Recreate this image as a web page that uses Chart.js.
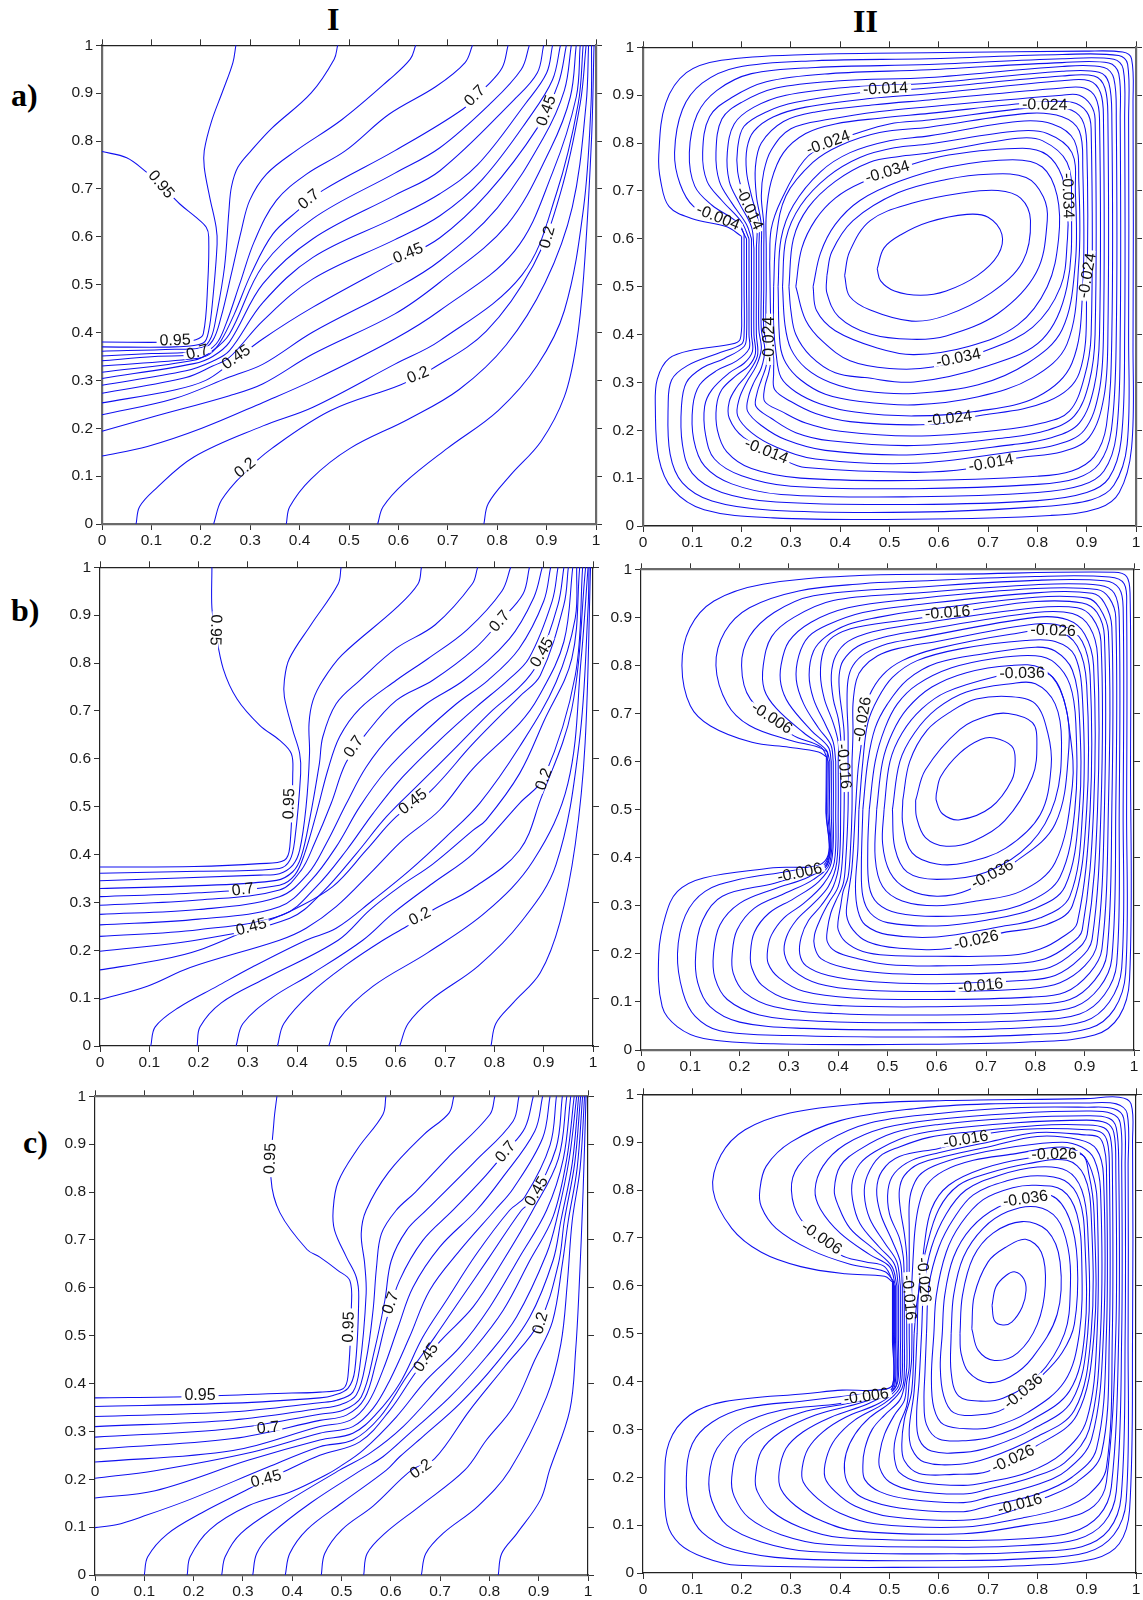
<!DOCTYPE html>
<html><head><meta charset="utf-8">
<script src="https://cdn.jsdelivr.net/npm/chart.js@4"></script>
<style>
html,body{margin:0;padding:0;background:#fff;width:1143px;height:1600px;overflow:hidden}
canvas{position:absolute;display:block}
.h{position:absolute;font:bold 32px "Liberation Serif",serif;color:#000;line-height:1;white-space:pre}
</style></head><body>
<div class="h" style="left:327px;top:3px">I</div>
<div class="h" style="left:853px;top:5px">II</div>
<div class="h" style="left:11px;top:79px">a)</div>
<div class="h" style="left:11px;top:594px">b)</div>
<div class="h" style="left:23px;top:1126px">c)</div>
<script>
const axisTicks=[0,.1,.2,.3,.4,.5,.6,.7,.8,.9,1];

// ---------- a) I ----------
const curvesA1=[
[0,.778,.05,.765,.09,.735,.119,.709,.157,.669,.19,.641,.211,.62,.216,.6,.214,.502,.205,.397,.19,.385,.15,.38,0,.38],
[.271,1,.265,.964,.245,.906,.222,.842,.207,.78,.207,.745,.218,.683,.231,.62,.233,.585,.224,.467,.216,.404,.205,.378,.147,.37,0,.37],
[.477,1,.47,.971,.423,.9,.344,.827,.302,.78,.275,.745,.262,.704,.257,.655,.248,.537,.231,.432,.221,.39,.204,.369,.147,.365,0,.361],
[.635,1,.624,.971,.581,.928,.486,.845,.393,.78,.333,.731,.299,.676,.282,.613,.262,.523,.241,.432,.224,.383,.197,.362,.1,.356,0,.351],
[.75,1,.735,.964,.676,.914,.581,.856,.493,.78,.414,.731,.353,.676,.309,.592,.279,.502,.251,.418,.231,.376,.197,.355,.107,.35,0,.341],
[.822,1,.81,.953,.778,.914,.731,.867,.593,.78,.447,.697,.397,.655,.346,.606,.302,.523,.268,.439,.241,.383,.218,.355,.186,.345,0,.33],
[.865,1,.849,.95,.786,.878,.684,.786,.593,.733,.427,.638,.326,.54,.258,.397,.224,.362,.186,.342,0,.317],
[.894,1,.881,.942,.833,.885,.684,.738,.593,.687,.427,.596,.326,.502,.258,.38,.224,.35,.186,.335,0,.304],
[.912,1,.9,.942,.857,.878,.76,.75,.684,.69,.593,.64,.427,.557,.326,.463,.258,.362,.224,.34,.17,.32,0,.29],
[.928,1,.912,.928,.865,.849,.77,.72,.684,.644,.593,.594,.427,.512,.326,.425,.258,.348,.224,.33,.17,.306,0,.273],
[.94,1,.924,.921,.881,.827,.78,.69,.684,.598,.593,.547,.427,.453,.326,.387,.258,.334,.21,.3,.147,.28,0,.253],
[.95,1,.936,.906,.893,.806,.8,.66,.684,.55,.593,.491,.427,.401,.326,.334,.258,.307,.147,.262,0,.228],
[.96,1,.948,.892,.908,.784,.82,.625,.684,.505,.593,.439,.427,.355,.326,.293,.258,.268,.107,.225,0,.194],
[.968,1,.96,.892,.912,.734,.835,.57,.684,.446,.593,.387,.427,.3,.326,.254,.202,.2,.092,.162,0,.142],
[.974,1,.964,.878,.92,.691,.85,.52,.684,.383,.593,.334,.427,.244,.326,.205,.186,.14,.107,.072,.076,.036,.069,0],
[.98,1,.968,.878,.928,.691,.873,.54,.778,.403,.668,.324,.605,.291,.463,.237,.344,.158,.289,.108,.242,.05,.226,0],
[.985,1,.98,.878,.952,.662,.897,.504,.818,.374,.723,.281,.62,.219,.502,.158,.423,.094,.38,.036,.373,0],
[.991,1,.99,.878,.975,.662,.936,.446,.881,.331,.802,.237,.699,.158,.612,.086,.569,.036,.558,0],
[.996,1,.991,.806,.975,.518,.96,.374,.936,.266,.889,.173,.826,.101,.782,.043,.773,0]];
const labelsA1=[["0.95",.119,.709],["0.95",.148,.383],["0.7",.193,.358],["0.45",.272,.348],["0.7",.419,.678],["0.7",.755,.894],["0.45",.62,.565],["0.45",.9,.863],["0.2",.64,.311],["0.2",.29,.117],["0.2",.902,.599]];
const anglesA1=[50,-2,-15,-35,-40,-45,-22,-70,-22,-40,-75];

// ---------- a) II ----------
const curvesA2=[
[.2,.605,.17,.625,.1,.642,.053,.667,.036,.72,.032,.775,.046,.883,.088,.947,.159,.973,.334,.985,.615,.989,.896,.992,.973,.99,.991,.976,.994,.883,.994,.379,.991,.163,.966,.07,.924,.037,.826,.022,.545,.014,.264,.017,.124,.034,.06,.077,.032,.142,.025,.25,.029,.307,.053,.35,.103,.368,.18,.38,.197,.39,.2,.45,.2,.523,.2,.605],
[.205,.61,.194,.631,.152,.644,.103,.667,.075,.715,.064,.78,.08,.87,.12,.925,.19,.958,.35,.972,.58,.976,.85,.985,.965,.983,.983,.965,.985,.85,.985,.4,.982,.17,.955,.085,.91,.055,.8,.04,.55,.029,.26,.033,.14,.052,.08,.09,.055,.15,.051,.25,.058,.305,.09,.335,.15,.36,.2,.38,.205,.4,.205,.5,.205,.61],
[.21,.6,.19,.635,.14,.67,.105,.71,.094,.78,.11,.86,.15,.91,.22,.945,.35,.958,.58,.964,.85,.976,.955,.975,.974,.955,.977,.85,.977,.4,.97,.18,.945,.1,.9,.07,.8,.053,.55,.045,.27,.05,.16,.07,.1,.11,.08,.17,.078,.25,.088,.3,.12,.33,.165,.35,.205,.375,.21,.4,.21,.5,.21,.6],
[.215,.6,.2,.635,.16,.68,.13,.72,.121,.78,.135,.855,.18,.895,.25,.928,.38,.945,.58,.953,.85,.968,.945,.967,.965,.945,.968,.85,.968,.4,.96,.19,.935,.115,.89,.085,.8,.07,.55,.061,.28,.066,.18,.088,.125,.125,.103,.18,.101,.25,.115,.295,.15,.325,.19,.345,.215,.37,.215,.4,.215,.5,.215,.6],
[.22,.6,.21,.63,.18,.675,.155,.72,.148,.78,.16,.85,.2,.885,.27,.915,.4,.93,.58,.937,.85,.96,.935,.958,.955,.935,.96,.85,.96,.4,.95,.2,.925,.13,.88,.1,.8,.087,.55,.078,.3,.083,.2,.105,.145,.14,.127,.19,.125,.25,.14,.285,.175,.32,.205,.34,.222,.365,.22,.4,.22,.5,.22,.6],
[.225,.58,.22,.625,.195,.675,.175,.72,.171,.78,.185,.84,.225,.875,.29,.9,.42,.917,.58,.925,.85,.95,.925,.948,.945,.925,.951,.85,.951,.4,.94,.21,.915,.145,.87,.115,.8,.104,.55,.095,.32,.1,.22,.12,.17,.155,.151,.2,.149,.25,.16,.285,.19,.315,.215,.335,.228,.36,.225,.4,.225,.5,.225,.58],
[.23,.58,.23,.63,.205,.69,.192,.74,.192,.79,.205,.835,.25,.865,.31,.885,.44,.905,.58,.915,.85,.94,.915,.94,.937,.915,.943,.85,.943,.4,.935,.27,.905,.185,.85,.155,.759,.142,.664,.12,.55,.112,.33,.122,.292,.135,.204,.185,.175,.225,.175,.26,.19,.29,.21,.315,.232,.355,.23,.4,.23,.5,.23,.58],
[.235,.58,.235,.63,.22,.69,.21,.74,.211,.79,.225,.825,.265,.855,.33,.875,.46,.893,.58,.903,.85,.93,.905,.93,.928,.905,.934,.85,.934,.4,.925,.28,.895,.2,.84,.17,.75,.155,.55,.131,.35,.14,.27,.165,.22,.195,.192,.23,.195,.265,.21,.3,.23,.335,.24,.37,.235,.41,.235,.5,.235,.58],
[.24,.58,.24,.63,.23,.69,.228,.75,.24,.8,.285,.845,.35,.865,.47,.88,.58,.89,.85,.915,.895,.915,.918,.895,.926,.85,.926,.4,.915,.29,.885,.215,.83,.185,.75,.17,.55,.149,.37,.158,.29,.18,.24,.21,.212,.24,.214,.27,.225,.3,.24,.33,.247,.37,.24,.41,.24,.5,.24,.58],
[.245,.58,.245,.63,.24,.69,.245,.74,.26,.785,.3,.83,.38,.85,.48,.866,.58,.876,.85,.9,.885,.9,.908,.88,.917,.85,.917,.4,.905,.3,.875,.23,.82,.2,.74,.185,.55,.168,.38,.178,.31,.195,.26,.225,.229,.25,.232,.28,.24,.305,.25,.335,.253,.37,.245,.41,.245,.5,.245,.58],
[.25,.58,.25,.65,.26,.72,.285,.78,.33,.82,.39,.84,.48,.852,.58,.862,.8,.885,.87,.885,.9,.865,.909,.83,.909,.4,.895,.31,.865,.24,.81,.215,.72,.2,.55,.188,.4,.198,.33,.215,.28,.24,.247,.26,.247,.29,.255,.32,.26,.35,.258,.38,.25,.42,.25,.5,.25,.58],
[.257,.55,.26,.62,.28,.68,.327,.764,.376,.8,.426,.818,.5,.84,.58,.848,.8,.875,.86,.872,.89,.85,.9,.8,.9,.5,.885,.32,.82,.26,.668,.228,.58,.212,.42,.218,.35,.235,.3,.26,.267,.285,.265,.32,.265,.35,.26,.4,.257,.55],
[.265,.5,.27,.6,.29,.69,.345,.76,.4,.795,.48,.822,.58,.833,.78,.862,.85,.855,.885,.825,.892,.75,.892,.5,.87,.34,.8,.27,.68,.24,.55,.23,.43,.238,.36,.255,.31,.28,.28,.31,.27,.36,.265,.42,.265,.5],
[.274,.5,.28,.6,.305,.67,.36,.74,.42,.78,.5,.805,.58,.815,.76,.845,.83,.84,.875,.805,.884,.72,.884,.55,.86,.38,.79,.31,.68,.27,.55,.253,.44,.26,.37,.275,.32,.305,.29,.34,.278,.38,.274,.5],
[.283,.5,.29,.6,.32,.67,.375,.73,.44,.77,.51,.79,.58,.798,.76,.825,.82,.82,.87,.78,.877,.7,.877,.55,.85,.41,.78,.34,.68,.295,.55,.277,.45,.282,.38,.3,.33,.33,.3,.37,.288,.42,.283,.5],
[.296,.5,.305,.6,.335,.665,.39,.72,.46,.76,.52,.772,.58,.779,.76,.81,.81,.805,.86,.76,.869,.68,.86,.5,.81,.39,.7,.335,.55,.301,.45,.31,.39,.32,.34,.355,.31,.4,.3,.45,.296,.5],
[.31,.5,.322,.58,.35,.64,.39,.685,.443,.717,.538,.753,.62,.775,.77,.789,.82,.775,.85,.73,.861,.66,.861,.6,.847,.5,.79,.415,.692,.365,.587,.332,.5,.329,.42,.345,.365,.385,.33,.43,.31,.5],
[.345,.5,.36,.57,.39,.63,.44,.68,.52,.72,.62,.75,.75,.765,.81,.75,.84,.69,.843,.6,.82,.5,.76,.42,.66,.375,.55,.358,.475,.372,.39,.408,.352,.45,.345,.5],
[.373,.523,.383,.573,.426,.638,.517,.696,.615,.724,.7,.735,.777,.728,.812,.688,.82,.638,.798,.53,.72,.444,.615,.397,.545,.39,.461,.401,.397,.437,.373,.487,.373,.523],
[.409,.523,.419,.573,.461,.638,.545,.674,.65,.696,.72,.701,.766,.685,.786,.638,.77,.552,.706,.487,.615,.44,.545,.428,.461,.451,.419,.48,.409,.523],
[.475,.537,.489,.581,.524,.609,.58,.635,.657,.651,.7,.645,.728,.609,.72,.566,.678,.523,.615,.491,.563,.482,.51,.491,.482,.512,.475,.537]];
const labelsA2=[["-0.014",.492,.913],["-0.024",.815,.879],["-0.024",.376,.8],["-0.034",.496,.739],["-0.034",.861,.69],["-0.004",.152,.644],["-0.014",.215,.663],["-0.024",.257,.39],["-0.024",.902,.523],["-0.034",.64,.35],["-0.024",.622,.224],["-0.014",.25,.156],["-0.014",.706,.131]];
const anglesA2=[-3,1,-20,-17,88,22,65,-90,-80,-12,-7,22,-10];

// ---------- b) I ----------
const curvesB1=[
[.227,1,.227,.915,.234,.869,.25,.788,.278,.725,.324,.67,.364,.639,.388,.611,.391,.569,.385,.416,.374,.388,.324,.381,.191,.375,0,.374],
[.489,1,.483,.965,.428,.88,.384,.809,.374,.764,.374,.729,.391,.66,.405,.611,.407,.569,.395,.43,.385,.388,.364,.371,.2,.365,0,.361],
[.652,1,.645,.965,.601,.915,.491,.817,.452,.764,.432,.722,.424,.674,.425,.611,.418,.5,.405,.409,.391,.378,.364,.36,.324,.357,0,.345],
[.766,1,.755,.965,.68,.88,.601,.831,.527,.764,.479,.715,.452,.646,.445,.59,.425,.472,.408,.395,.391,.364,.358,.346,.2,.335,0,.329],
[.833,1,.815,.95,.745,.87,.665,.809,.601,.764,.527,.705,.486,.646,.462,.576,.439,.486,.415,.402,.395,.357,.364,.336,.2,.32,0,.312],
[.871,1,.858,.944,.811,.887,.76,.83,.675,.764,.601,.722,.537,.649,.498,.59,.469,.507,.435,.423,.408,.367,.364,.326,.2,.305,0,.294],
[.897,1,.88,.937,.83,.85,.738,.764,.662,.715,.594,.653,.54,.583,.5,.507,.459,.423,.422,.36,.364,.312,.2,.285,0,.275],
[.914,1,.9,.929,.85,.83,.787,.764,.723,.715,.648,.646,.581,.576,.527,.5,.479,.416,.429,.347,.364,.291,.2,.265,0,.253],
[.929,1,.917,.929,.87,.81,.827,.764,.763,.708,.689,.639,.614,.562,.554,.486,.5,.409,.439,.333,.371,.274,.2,.243,0,.229],
[.941,1,.929,.922,.885,.795,.851,.75,.797,.702,.723,.625,.648,.548,.581,.479,.52,.402,.452,.322,.385,.267,.2,.222,0,.198],
[.95,1,.941,.922,.893,.774,.851,.73,.757,.632,.669,.531,.601,.479,.54,.409,.472,.333,.391,.284,.344,.263,.2,.2,.112,.178,0,.159],
[.959,1,.941,.845,.89,.73,.851,.674,.757,.58,.689,.493,.614,.43,.554,.367,.479,.291,.418,.246,.364,.221,.183,.164,.096,.125,0,.097],
[.967,1,.964,.894,.925,.76,.851,.625,.77,.507,.702,.437,.628,.367,.554,.305,.479,.246,.418,.221,.309,.165,.238,.125,.159,.08,.112,.04,.103,0],
[.973,1,.957,.809,.901,.68,.851,.569,.783,.472,.757,.451,.675,.38,.608,.333,.547,.284,.483,.221,.333,.14,.246,.09,.203,.04,.197,0],
[.979,1,.964,.774,.901,.562,.851,.507,.757,.402,.675,.34,.594,.277,.533,.221,.428,.15,.349,.101,.29,.047,.276,0],
[.985,1,.957,.704,.893,.513,.851,.409,.757,.33,.675,.284,.621,.249,.574,.221,.5,.17,.428,.111,.373,.047,.36,0],
[.99,1,.976,.809,.949,.548,.878,.386,.783,.28,.665,.195,.554,.125,.483,.054,.464,0],
[.992,1,.99,.915,.972,.633,.925,.379,.854,.259,.767,.167,.672,.097,.625,.047,.608,0],
[.995,1,.984,.633,.964,.421,.933,.259,.893,.153,.838,.09,.803,.047,.793,0]];
const labelsB1=[["0.95",.234,.869],["0.95",.384,.506],["0.7",.29,.326],["0.45",.307,.248],["0.7",.515,.625],["0.7",.811,.887],["0.45",.897,.822],["0.45",.635,.51],["0.2",.649,.27],["0.2",.901,.557]];
const anglesB1=[92,-88,-8,-15,-55,-50,-60,-38,-28,-70];

// ---------- b) II ----------
const curvesB2=[
[.376,.61,.36,.62,.3,.63,.225,.64,.141,.674,.1,.716,.083,.8,.099,.878,.148,.934,.247,.969,.443,.987,.65,.99,.96,.994,.985,.985,.992,.95,.993,.6,.991,.147,.97,.07,.92,.031,.794,.017,.6,.012,.268,.013,.127,.024,.074,.048,.043,.09,.036,.2,.05,.28,.074,.33,.127,.358,.268,.379,.373,.393,.375,.5,.376,.61],
[.378,.62,.36,.63,.3,.645,.22,.675,.175,.72,.152,.8,.17,.87,.22,.92,.32,.955,.45,.97,.55,.975,.8,.985,.95,.984,.98,.97,.985,.92,.985,.5,.983,.16,.96,.085,.91,.045,.79,.032,.6,.027,.3,.03,.16,.04,.11,.07,.085,.12,.074,.2,.09,.28,.13,.33,.2,.355,.3,.372,.375,.39,.376,.5,.378,.62],
[.38,.6,.365,.63,.306,.656,.222,.73,.204,.8,.22,.86,.27,.91,.35,.945,.55,.962,.8,.977,.94,.976,.97,.96,.978,.92,.978,.5,.975,.17,.95,.1,.9,.06,.79,.047,.6,.042,.33,.045,.2,.058,.14,.09,.115,.14,.111,.2,.125,.27,.165,.32,.271,.347,.324,.365,.378,.39,.379,.5,.38,.6],
[.383,.6,.375,.625,.33,.66,.275,.71,.25,.75,.248,.8,.265,.86,.31,.9,.39,.935,.55,.95,.8,.968,.93,.967,.96,.95,.97,.9,.97,.5,.965,.18,.94,.115,.89,.075,.79,.062,.6,.057,.36,.06,.24,.073,.175,.105,.15,.15,.147,.2,.16,.26,.2,.305,.27,.335,.34,.36,.38,.39,.382,.5,.383,.6],
[.386,.6,.38,.63,.345,.665,.3,.72,.284,.76,.284,.8,.3,.85,.345,.89,.42,.92,.55,.938,.8,.96,.925,.958,.95,.94,.963,.9,.963,.5,.955,.19,.93,.13,.88,.09,.79,.078,.6,.073,.39,.076,.27,.09,.21,.12,.187,.16,.185,.2,.195,.25,.23,.295,.29,.325,.35,.355,.383,.39,.386,.5,.386,.6],
[.39,.6,.385,.635,.36,.67,.33,.72,.315,.77,.32,.82,.34,.86,.38,.885,.45,.91,.55,.925,.8,.951,.915,.95,.94,.93,.955,.88,.955,.5,.945,.2,.92,.145,.87,.105,.79,.095,.6,.09,.41,.092,.3,.105,.245,.135,.225,.17,.222,.2,.23,.245,.26,.285,.31,.315,.36,.35,.386,.39,.39,.5,.39,.6],
[.395,.6,.39,.64,.375,.675,.35,.73,.341,.78,.35,.83,.375,.86,.42,.885,.48,.9,.55,.912,.8,.942,.905,.94,.93,.92,.948,.87,.948,.5,.935,.21,.91,.16,.86,.12,.79,.11,.6,.105,.43,.108,.33,.122,.28,.15,.258,.18,.257,.21,.265,.24,.29,.275,.33,.305,.37,.345,.392,.39,.395,.5,.395,.6],
[.4,.6,.4,.64,.39,.68,.372,.73,.364,.78,.37,.83,.39,.86,.44,.88,.57,.899,.675,.916,.8,.933,.895,.93,.925,.91,.94,.86,.94,.5,.925,.22,.9,.175,.85,.14,.79,.128,.633,.122,.45,.125,.36,.138,.31,.165,.291,.2,.295,.235,.315,.27,.35,.305,.38,.34,.397,.39,.4,.5,.4,.6],
[.405,.6,.405,.65,.4,.69,.39,.73,.386,.78,.395,.82,.42,.85,.47,.87,.55,.885,.8,.92,.885,.92,.915,.9,.933,.85,.933,.5,.915,.23,.89,.19,.84,.155,.78,.145,.6,.138,.47,.142,.38,.155,.335,.175,.322,.2,.325,.235,.34,.27,.365,.3,.39,.34,.402,.39,.405,.5,.405,.6],
[.412,.6,.412,.66,.408,.7,.403,.74,.402,.78,.41,.81,.44,.84,.49,.858,.55,.87,.8,.91,.875,.908,.91,.88,.926,.82,.926,.5,.905,.24,.88,.205,.83,.172,.77,.163,.6,.157,.49,.16,.41,.172,.365,.19,.352,.215,.352,.24,.365,.275,.38,.305,.4,.34,.408,.39,.412,.5,.412,.6],
[.42,.6,.42,.66,.418,.72,.42,.77,.43,.8,.455,.825,.5,.845,.55,.855,.8,.9,.865,.895,.9,.865,.918,.8,.918,.5,.895,.25,.87,.22,.82,.19,.76,.18,.6,.175,.5,.178,.44,.19,.395,.205,.378,.225,.378,.25,.385,.285,.395,.31,.41,.345,.415,.39,.42,.5,.42,.6],
[.428,.6,.43,.66,.43,.72,.437,.77,.45,.795,.48,.82,.52,.835,.6,.85,.8,.886,.86,.88,.895,.85,.911,.78,.911,.5,.885,.265,.855,.235,.81,.21,.75,.197,.6,.195,.5,.197,.45,.205,.415,.225,.4,.25,.4,.27,.405,.3,.41,.33,.42,.36,.425,.42,.428,.5,.428,.6],
[.435,.5,.44,.58,.447,.639,.45,.688,.463,.737,.49,.78,.53,.81,.6,.835,.75,.865,.84,.872,.885,.84,.904,.76,.904,.5,.875,.3,.82,.26,.724,.242,.633,.212,.52,.212,.46,.225,.43,.25,.417,.28,.42,.32,.428,.38,.435,.5],
[.442,.5,.45,.6,.46,.68,.48,.73,.51,.775,.56,.81,.65,.835,.78,.852,.84,.85,.88,.82,.896,.72,.896,.5,.87,.32,.81,.275,.72,.255,.6,.235,.5,.24,.455,.26,.44,.29,.435,.34,.44,.42,.442,.5],
[.45,.5,.46,.6,.475,.67,.5,.72,.54,.77,.6,.805,.7,.825,.8,.838,.84,.83,.875,.79,.889,.7,.889,.5,.86,.34,.8,.295,.7,.27,.6,.258,.5,.265,.465,.285,.45,.32,.447,.38,.45,.5],
[.463,.5,.475,.6,.495,.67,.52,.72,.56,.76,.63,.795,.72,.815,.8,.82,.84,.805,.87,.76,.882,.68,.88,.5,.85,.36,.79,.31,.7,.285,.6,.278,.52,.285,.48,.305,.463,.34,.46,.42,.463,.5],
[.478,.5,.49,.6,.51,.66,.54,.71,.59,.755,.66,.785,.75,.8,.81,.795,.85,.75,.87,.66,.875,.55,.84,.39,.77,.33,.68,.31,.6,.3,.53,.31,.49,.34,.475,.4,.478,.5],
[.493,.5,.505,.6,.53,.66,.57,.71,.62,.745,.72,.777,.77,.783,.829,.781,.86,.72,.868,.63,.84,.47,.756,.389,.664,.333,.6,.32,.54,.335,.505,.37,.49,.43,.493,.5],
[.51,.5,.525,.6,.555,.66,.6,.71,.66,.745,.75,.762,.8,.762,.84,.72,.853,.64,.84,.52,.79,.43,.7,.37,.6,.355,.54,.37,.515,.42,.51,.5],
[.531,.52,.545,.6,.58,.665,.63,.705,.68,.73,.752,.735,.8,.72,.825,.66,.832,.59,.81,.49,.74,.42,.66,.39,.6,.387,.55,.41,.531,.47,.531,.52],
[.557,.519,.577,.583,.647,.667,.703,.695,.745,.7,.794,.681,.803,.639,.794,.569,.738,.477,.675,.435,.619,.424,.577,.442,.559,.484,.557,.519],
[.599,.533,.608,.569,.647,.618,.689,.646,.717,.649,.752,.632,.759,.604,.752,.561,.71,.505,.647,.479,.612,.491,.599,.519,.599,.533]];
const labelsB2=[["-0.016",.622,.909],["-0.026",.836,.872],["-0.036",.773,.783],["-0.006",.265,.69],["-0.026",.45,.688],["-0.016",.411,.59],["-0.006",.322,.368],["-0.036",.713,.365],["-0.026",.68,.228],["-0.016",.689,.133]];
const anglesB2=[-4,2,-1,33,-80,85,-12,-28,-12,-6];

// ---------- c) I ----------
const curvesC1=[
[.369,1,.363,.948,.357,.828,.375,.757,.43,.68,.456,.664,.493,.636,.517,.615,.52,.56,.513,.414,.503,.389,.456,.382,.399,.38,.201,.373,0,.37],
[.59,1,.584,.962,.533,.891,.493,.821,.483,.762,.486,.72,.51,.664,.53,.622,.535,.581,.527,.428,.513,.39,.483,.375,.456,.37,.28,.359,0,.352],
[.728,1,.718,.965,.667,.92,.596,.842,.55,.762,.54,.713,.547,.65,.55,.588,.537,.435,.523,.382,.49,.365,.456,.36,.28,.341,0,.331],
[.811,1,.801,.962,.714,.87,.65,.8,.611,.762,.581,.713,.571,.643,.564,.553,.55,.449,.53,.376,.496,.355,.456,.348,.28,.324,0,.31],
[.86,1,.848,.948,.77,.863,.672,.762,.632,.72,.601,.657,.588,.574,.567,.47,.54,.372,.503,.344,.456,.336,.28,.306,0,.288],
[.889,1,.872,.934,.833,.884,.793,.835,.726,.762,.665,.699,.618,.616,.591,.532,.571,.449,.547,.369,.51,.334,.456,.323,.28,.285,0,.263],
[.908,1,.892,.927,.825,.828,.774,.762,.699,.685,.645,.601,.615,.518,.584,.428,.554,.36,.517,.323,.456,.31,.28,.26,0,.236],
[.923,1,.908,.913,.848,.807,.811,.762,.74,.678,.679,.595,.638,.497,.598,.407,.564,.348,.523,.31,.456,.296,.32,.257,.122,.218,0,.202],
[.936,1,.923,.898,.872,.79,.841,.762,.774,.671,.713,.574,.665,.497,.618,.4,.571,.337,.523,.296,.456,.282,.312,.24,.122,.176,0,.161],
[.948,1,.935,.891,.884,.78,.865,.762,.8,.664,.74,.574,.689,.497,.632,.414,.578,.33,.523,.282,.456,.268,.35,.225,.193,.158,.099,.123,.043,.105,0,.099],
[.957,1,.94,.87,.888,.762,.828,.657,.767,.56,.699,.487,.649,.421,.598,.344,.537,.278,.456,.25,.379,.214,.347,.2,.312,.18,.217,.13,.146,.085,.107,.038,.1,0],
[.965,1,.95,.87,.916,.762,.861,.664,.801,.56,.74,.476,.672,.407,.611,.33,.544,.261,.496,.226,.47,.21,.4,.175,.312,.145,.233,.095,.193,.038,.187,0],
[.972,1,.957,.87,.929,.748,.882,.657,.828,.553,.767,.47,.699,.393,.625,.31,.557,.254,.496,.219,.375,.144,.296,.087,.264,.038,.257,0],
[.977,1,.962,.87,.938,.75,.916,.671,.855,.539,.794,.456,.72,.372,.638,.296,.584,.247,.54,.219,.438,.151,.359,.087,.328,.045,.32,0],
[.981,1,.968,.86,.945,.74,.929,.657,.882,.539,.814,.442,.74,.358,.665,.289,.618,.247,.591,.219,.501,.151,.43,.095,.395,.045,.386,0],
[.985,1,.973,.86,.952,.74,.94,.65,.902,.529,.831,.435,.76,.344,.689,.243,.642,.219,.564,.144,.501,.095,.466,.045,.459,0],
[.989,1,.978,.85,.96,.74,.948,.65,.928,.53,.892,.449,.848,.351,.794,.282,.75,.219,.659,.144,.588,.087,.552,.045,.545,0],
[.993,1,.984,.85,.968,.74,.958,.609,.945,.483,.916,.372,.841,.219,.777,.144,.706,.087,.671,.045,.662,0],
[.996,1,.99,.8,.982,.6,.975,.47,.963,.344,.922,.219,.904,.158,.856,.087,.825,.045,.818,0]];
const labelsC1=[["0.95",.356,.87],["0.95",.515,.518],["0.95",.213,.374],["0.7",.6,.568],["0.7",.833,.884],["0.7",.351,.307],["0.45",.896,.801],["0.45",.672,.454],["0.45",.347,.2],["0.2",.661,.221],["0.2",.904,.526]];
const anglesC1=[-88,-88,0,-70,-50,-5,-60,-55,-15,-35,-75];

// ---------- c) II ----------
const curvesC2=[
[.506,.608,.49,.62,.41,.625,.32,.64,.24,.67,.18,.72,.142,.8,.158,.873,.207,.926,.298,.961,.439,.98,.615,.987,.896,.991,.966,.994,.99,.98,.993,.9,.993,.5,.987,.132,.966,.061,.916,.03,.79,.016,.6,.012,.193,.016,.123,.033,.074,.061,.049,.104,.044,.188,.053,.273,.095,.33,.165,.358,.334,.375,.404,.382,.474,.382,.506,.393,.506,.485,.506,.608],
[.508,.61,.49,.63,.42,.645,.34,.675,.27,.72,.24,.765,.237,.8,.25,.85,.3,.9,.4,.945,.55,.97,.7,.98,.9,.982,.96,.98,.982,.96,.984,.85,.984,.5,.98,.15,.955,.08,.9,.043,.78,.03,.65,.026,.3,.03,.18,.05,.12,.085,.095,.13,.088,.2,.1,.27,.14,.315,.21,.345,.33,.36,.43,.372,.5,.38,.508,.4,.508,.5,.508,.61],
[.51,.6,.49,.64,.45,.65,.4,.665,.32,.739,.301,.8,.315,.85,.37,.9,.46,.94,.6,.96,.75,.972,.9,.973,.955,.97,.975,.95,.978,.85,.978,.5,.97,.16,.945,.09,.89,.055,.78,.044,.65,.04,.34,.045,.24,.065,.17,.1,.14,.15,.134,.2,.15,.26,.2,.31,.28,.34,.4,.354,.453,.368,.499,.379,.51,.4,.51,.5,.51,.6],
[.512,.6,.5,.64,.46,.665,.4,.71,.36,.76,.349,.8,.365,.85,.41,.895,.49,.93,.6,.948,.75,.96,.9,.965,.95,.96,.968,.94,.971,.85,.971,.5,.96,.17,.935,.105,.88,.07,.78,.058,.65,.054,.37,.06,.28,.08,.215,.115,.185,.16,.18,.2,.195,.26,.24,.3,.32,.335,.42,.355,.5,.375,.512,.4,.512,.5,.512,.6],
[.515,.6,.505,.64,.47,.675,.42,.72,.395,.77,.388,.8,.4,.85,.44,.885,.51,.92,.6,.937,.75,.95,.9,.955,.945,.95,.96,.93,.965,.85,.965,.5,.95,.18,.925,.12,.87,.085,.78,.072,.65,.068,.4,.074,.32,.095,.26,.13,.232,.17,.228,.2,.24,.255,.28,.295,.35,.33,.44,.355,.505,.38,.515,.4,.515,.5,.515,.6],
[.518,.6,.51,.645,.48,.68,.44,.73,.425,.78,.425,.82,.44,.855,.47,.88,.53,.91,.6,.925,.75,.94,.9,.946,.94,.94,.955,.92,.959,.85,.959,.5,.94,.19,.915,.14,.86,.115,.78,.1,.65,.082,.43,.088,.36,.11,.31,.14,.28,.175,.276,.21,.29,.26,.325,.295,.38,.325,.46,.355,.51,.385,.518,.41,.518,.5,.518,.6],
[.522,.6,.515,.65,.49,.69,.46,.74,.449,.79,.455,.83,.48,.87,.52,.89,.58,.91,.65,.92,.8,.935,.9,.936,.935,.93,.948,.91,.952,.85,.952,.5,.94,.22,.905,.165,.85,.135,.77,.115,.65,.096,.47,.103,.4,.125,.355,.155,.325,.19,.323,.22,.335,.26,.365,.295,.41,.325,.48,.355,.515,.385,.522,.41,.522,.5,.522,.6],
[.526,.6,.522,.65,.505,.695,.482,.75,.474,.8,.485,.84,.52,.87,.6,.887,.657,.903,.706,.919,.8,.928,.9,.926,.93,.92,.942,.9,.946,.85,.946,.5,.93,.25,.88,.19,.815,.157,.72,.121,.65,.11,.5,.118,.43,.14,.39,.17,.369,.2,.372,.24,.39,.28,.43,.32,.49,.355,.52,.385,.526,.42,.526,.5,.526,.6],
[.53,.6,.528,.66,.52,.7,.5,.75,.497,.8,.51,.835,.545,.862,.6,.878,.7,.9,.8,.92,.9,.915,.925,.91,.935,.89,.94,.85,.94,.5,.92,.26,.87,.2,.8,.165,.7,.14,.65,.128,.52,.136,.45,.155,.42,.18,.409,.21,.412,.25,.43,.29,.46,.325,.5,.355,.525,.385,.53,.42,.53,.5,.53,.6],
[.535,.6,.535,.66,.53,.71,.522,.76,.52,.8,.53,.83,.56,.855,.62,.872,.7,.89,.8,.912,.885,.905,.92,.885,.934,.83,.934,.5,.91,.28,.86,.215,.8,.185,.7,.158,.65,.147,.54,.154,.48,.17,.45,.195,.446,.225,.45,.26,.465,.3,.49,.33,.52,.36,.53,.39,.535,.43,.535,.5,.535,.6],
[.54,.6,.54,.66,.54,.72,.54,.77,.545,.8,.56,.83,.59,.85,.65,.87,.75,.89,.85,.9,.89,.89,.915,.865,.928,.8,.928,.5,.905,.3,.855,.23,.79,.2,.7,.175,.65,.165,.55,.172,.5,.19,.48,.22,.48,.25,.49,.29,.51,.33,.53,.36,.535,.4,.54,.43,.54,.5,.54,.6],
[.545,.6,.548,.66,.552,.72,.56,.77,.575,.81,.61,.84,.67,.862,.75,.875,.85,.89,.89,.875,.91,.84,.921,.78,.921,.5,.9,.32,.85,.25,.78,.21,.7,.19,.65,.183,.56,.19,.52,.21,.51,.24,.51,.27,.52,.31,.535,.35,.54,.4,.545,.45,.545,.6],
[.55,.5,.555,.56,.565,.62,.57,.68,.585,.76,.62,.81,.69,.845,.783,.867,.888,.875,.905,.83,.915,.75,.915,.5,.88,.33,.794,.263,.699,.212,.63,.206,.56,.208,.53,.235,.525,.27,.53,.32,.545,.38,.55,.5],
[.556,.5,.56,.6,.575,.68,.6,.76,.64,.81,.7,.835,.78,.855,.86,.862,.895,.83,.909,.75,.909,.5,.875,.34,.79,.28,.7,.24,.643,.227,.57,.232,.545,.26,.54,.3,.55,.38,.556,.5],
[.565,.5,.57,.6,.585,.68,.615,.75,.655,.8,.72,.83,.8,.848,.86,.84,.89,.8,.902,.72,.902,.5,.87,.36,.79,.3,.71,.265,.65,.252,.585,.255,.56,.28,.555,.33,.56,.4,.565,.5],
[.575,.5,.58,.6,.6,.68,.63,.74,.67,.79,.74,.82,.8,.83,.855,.82,.885,.78,.896,.7,.896,.5,.865,.38,.78,.315,.71,.285,.66,.277,.6,.28,.575,.31,.57,.36,.572,.42,.575,.5],
[.59,.5,.595,.58,.615,.67,.645,.73,.69,.78,.75,.805,.797,.81,.85,.8,.88,.75,.89,.65,.885,.5,.855,.4,.78,.335,.71,.305,.67,.301,.61,.31,.59,.345,.585,.41,.59,.5],
[.607,.5,.612,.58,.63,.66,.665,.72,.72,.764,.776,.778,.829,.788,.865,.74,.881,.65,.875,.52,.85,.46,.808,.411,.734,.344,.678,.33,.63,.335,.61,.37,.603,.43,.607,.5],
[.625,.5,.63,.58,.65,.66,.69,.72,.74,.755,.797,.765,.84,.74,.862,.68,.867,.6,.855,.5,.8,.41,.73,.365,.685,.359,.64,.37,.625,.42,.625,.5],
[.643,.5,.648,.58,.67,.66,.71,.71,.769,.734,.82,.715,.846,.65,.84,.54,.79,.45,.745,.41,.699,.398,.66,.42,.645,.46,.643,.5],
[.667,.51,.672,.58,.7,.65,.735,.68,.776,.697,.808,.67,.816,.6,.8,.52,.76,.46,.713,.444,.68,.465,.667,.51],
[.708,.559,.716,.598,.737,.622,.755,.629,.772,.615,.777,.59,.769,.555,.748,.524,.73,.518,.713,.527,.708,.559]];
const labelsC2=[["-0.016",.655,.905],["-0.026",.834,.874],["-0.036",.776,.781],["-0.006",.362,.699],["-0.026",.569,.612],["-0.016",.539,.575],["-0.006",.453,.368],["-0.036",.772,.379],["-0.026",.751,.238],["-0.016",.765,.143]];
const anglesC2=[-10,-1,-8,35,85,85,-8,-40,-25,-15];

// ---------- layout (plot rectangles in page pixels) and frame styles ----------
const G="#6a6a6a",K="#222";
const panels=[
 {c:curvesA1,l:labelsA1,a:anglesA1,box:[102,44.8,595.7,523.4],f:{l:[G,2.2],b:[G,2.2],t:[K,1.2],r:[G,2.2]}},
 {c:curvesA2,l:labelsA2,a:anglesA2,box:[642.9,47.2,1136,525.8],f:{l:[G,2.2],b:[K,1.4],t:[K,1.2],r:[G,2.2]}},
 {c:curvesB1,l:labelsB1,a:anglesB1,box:[100.4,567,593.4,1046],f:{l:[K,1.2],b:[K,1.2],t:[K,1.2],r:[K,1.2]}},
 {c:curvesB2,l:labelsB2,a:anglesB2,box:[641.2,569,1134.3,1050],f:{l:[K,1.2],b:[G,2.2],t:[G,2.2],r:[K,1.2]}},
 {c:curvesC1,l:labelsC1,a:anglesC1,box:[95.3,1095.7,588.3,1575],f:{l:[K,1.2],b:[G,2.2],t:[G,2.2],r:[K,1.2]}},
 {c:curvesC2,l:labelsC2,a:anglesC2,box:[643.3,1093.7,1136.4,1572.7],f:{l:[K,1.2],b:[K,1.2],t:[K,1.4],r:[K,1.2]}}
];

const contourLabels={id:"contourLabels",afterDatasetsDraw(ch,_,o){
  const {ctx,scales:{x,y}}=ch;
  ctx.save();
  ctx.font='16px "Liberation Sans",Arial,sans-serif';
  ctx.textAlign="center";ctx.textBaseline="middle";
  o.items.forEach((it,i)=>{
    const w=ctx.measureText(it[0]).width;
    ctx.save();
    ctx.translate(x.getPixelForValue(it[1]),y.getPixelForValue(it[2]));
    ctx.rotate(o.angles[i]*Math.PI/180);
    ctx.fillStyle="#fff";ctx.fillRect(-w/2-3,-3.5,w+6,7);
    ctx.fillStyle="#111";ctx.fillText(it[0],0,0);
    ctx.restore();
  });
  ctx.restore();
}};

const fmt=v=>String(+(+v).toFixed(1));
const tickFont={family:'"Liberation Sans",Arial,sans-serif',size:15.5};
function axis(pos,main,b,extra,size){
  const horizontal=(pos==="top"||pos==="bottom");
  return Object.assign({type:"linear",position:pos,min:0,max:1,
    afterBuildTicks(s){s.ticks=axisTicks.map(v=>({value:v}));},
    afterFit(s){if(horizontal)s.height=size;else s.width=size;},
    border:{display:true,color:b[0],width:b[1]},
    grid:{display:true,drawOnChartArea:false,drawTicks:true,tickLength:6,color:"#333",tickWidth:1,tickBorderDash:[]},
    ticks:main?{display:true,color:"#1a1a1a",font:tickFont,padding:horizontal?1:3,autoSkip:false,maxRotation:0,minRotation:0,callback:fmt,align:"center"}:{display:false}
  },extra||{});
}
panels.forEach(p=>{
  const L=50,T=12,R=12,B=28;
  const [x0,y0,x1,y1]=p.box;
  const cv=document.createElement("canvas");
  const px0=Math.round(x0),py0=Math.round(y0),pw=Math.round(x1-x0),ph=Math.round(y1-y0);
  cv.width=pw+L+R;cv.height=ph+T+B;
  cv.style.left=(px0-L)+"px";cv.style.top=(py0-T)+"px";
  cv.style.width=cv.width+"px";cv.style.height=cv.height+"px";
  document.body.appendChild(cv);
  new Chart(cv,{type:"scatter",
    data:{datasets:p.c.map(flat=>{
      const d=[];for(let i=0;i<flat.length;i+=2)d.push({x:flat[i],y:flat[i+1]});
      return {data:d,showLine:true,borderColor:"#1010f0",borderWidth:1.05,pointRadius:0,pointHoverRadius:0,tension:.36,fill:false,clip:2};
    })},
    options:{responsive:false,animation:false,devicePixelRatio:1,events:[],
      layout:{padding:0,autoPadding:false},
      plugins:{legend:{display:false},tooltip:{enabled:false},title:{display:false},contourLabels:{items:p.l,angles:p.a}},
      scales:{
        x:axis("bottom",true,p.f.b,null,B),
        y:axis("left",true,p.f.l,null,L),
        x2:axis("top",false,p.f.t,{axis:"x"},T),
        y2:axis("right",false,p.f.r,{axis:"y"},R)
      }},
    plugins:[contourLabels]
  });
});
</script>
</body></html>
